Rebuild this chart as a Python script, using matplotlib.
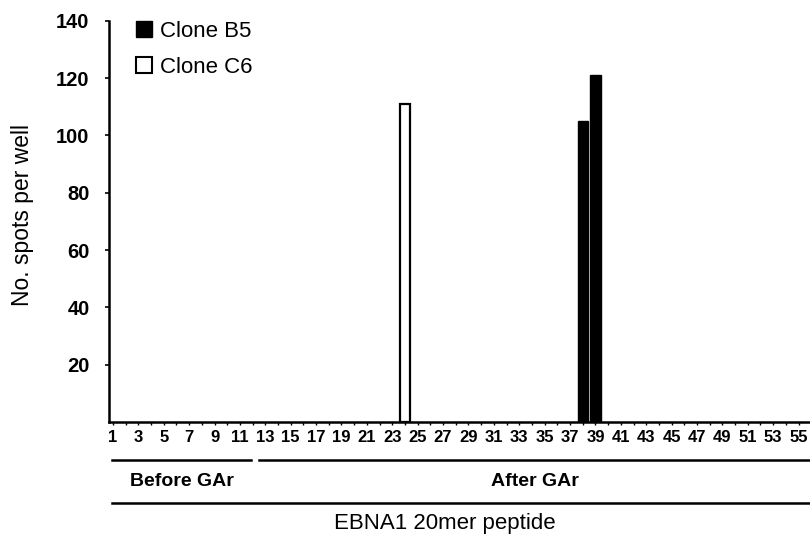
import matplotlib.pyplot as plt
import numpy as np
from matplotlib.patches import Patch
from matplotlib.transforms import blended_transform_factory

plt.rcParams['font.family'] = ['Liberation Sans', 'DejaVu Sans']

# peptide numbers and responses (spots per well)
peptides = np.arange(1, 56)
b5_peptides = [38, 39]
b5_spots = [105, 121]
c6_peptides = [24]
c6_spots = [111]

yticks = [20, 40, 60, 80, 100, 120, 140]
groups = [("Before GAr", 0.9, 11.9), ("After GAr", 12.5, 56.5)]

fig = plt.figure(figsize=(8.1, 5.36), dpi=100)
ax = fig.add_axes([109 / 810, 1 - 422 / 536, 1 - 109 / 810, (422 - 20.7) / 536])

ax.bar(b5_peptides, b5_spots, width=0.82, color='black', edgecolor='black', linewidth=1)
ax.bar(c6_peptides, c6_spots, width=0.82, color='white', edgecolor='black', linewidth=1.6)

ax.set_xlim(0.69, 55.9)
ax.set_ylim(0, 140)
ax.set_yticks(yticks)
ax.set_yticklabels([str(t) for t in yticks], fontsize=14.5, fontweight='bold')
ax.set_xticks(peptides[::2])
ax.set_xticklabels([str(p) for p in peptides[::2]], fontsize=12, fontweight='bold')
ax.set_xticks(peptides, minor=True)
ax.tick_params(axis='y', direction='out', length=3, width=1.2, pad=11)
ax.tick_params(axis='x', which='both', direction='out', length=2, width=1, pad=4)

for s in ['top', 'right']:
    ax.spines[s].set_visible(False)
for s in ['left', 'bottom']:
    ax.spines[s].set_linewidth(1.8)

ax.set_ylabel('No. spots per well', fontsize=16.5)
ax.yaxis.set_label_coords(-0.107, 0.516)

# group lines under the axis
tr = blended_transform_factory(ax.transData, fig.transFigure)
for name, x0, x1 in groups:
    ax.plot([x0, x1], [1 - 460 / 536] * 2, color='black', lw=1.8, transform=tr, clip_on=False)
    xc = (x0 + min(x1, 55.9)) / 2
    ax.text(xc, 1 - 482 / 536, name, transform=tr, ha='center', va='center',
            fontsize=14, fontweight='bold')
ax.plot([0.9, 56.5], [1 - 503 / 536] * 2, color='black', lw=1.8, transform=tr, clip_on=False)
fig.text(445 / 810, 1 - 523 / 536, 'EBNA1 20mer peptide', ha='center', va='center', fontsize=16)

handles = [Patch(facecolor='black', edgecolor='black', label='Clone B5'),
           Patch(facecolor='white', edgecolor='black', linewidth=1.5, label='Clone C6')]
ax.legend(handles=handles, loc='upper left', bbox_to_anchor=(0.01, 1.05), frameon=False,
          fontsize=16, handlelength=0.7, handleheight=0.7, handletextpad=0.4, labelspacing=0.68)

fig.savefig('out.png', dpi=100)
